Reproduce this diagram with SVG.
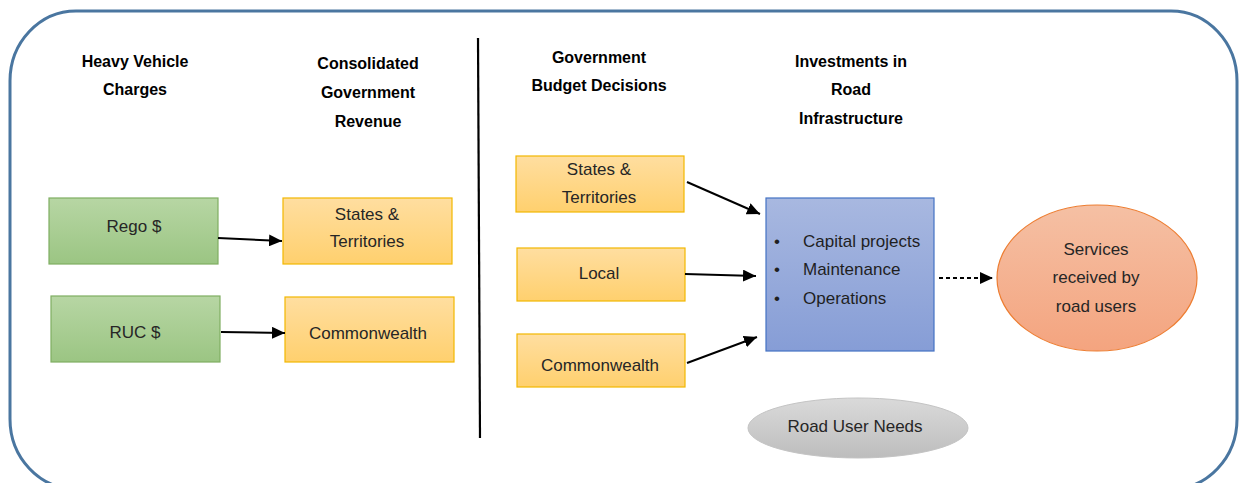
<svg xmlns="http://www.w3.org/2000/svg" width="1239" height="483" viewBox="0 0 1239 483">
<defs>
<linearGradient id="gGreen" x1="0" y1="0" x2="0" y2="1"><stop offset="0" stop-color="#B7D6A4"/><stop offset="1" stop-color="#9BC583"/></linearGradient>
<linearGradient id="gOrange" x1="0" y1="0" x2="0" y2="1"><stop offset="0" stop-color="#FFDEA0"/><stop offset="1" stop-color="#FFD06E"/></linearGradient>
<linearGradient id="gBlue" x1="0" y1="0" x2="0" y2="1"><stop offset="0" stop-color="#A8B8E0"/><stop offset="1" stop-color="#869DD6"/></linearGradient>
<linearGradient id="gSalmon" x1="0" y1="0" x2="0" y2="1"><stop offset="0" stop-color="#F5C0A4"/><stop offset="1" stop-color="#F4A47F"/></linearGradient>
<linearGradient id="gGray" x1="0" y1="0" x2="0" y2="1"><stop offset="0" stop-color="#DADADA"/><stop offset="1" stop-color="#BDBDBD"/></linearGradient>
<marker id="arrow" markerUnits="userSpaceOnUse" markerWidth="14" markerHeight="12" refX="13" refY="6" orient="auto">
<path d="M0,0 L13,6 L0,12 Z" fill="#000"/>
</marker>
</defs>
<style>
.head{font-family:"Liberation Sans",Arial,sans-serif;font-weight:bold;font-size:16px;fill:#000;text-anchor:middle}
.lbl{font-family:"Liberation Sans",Arial,sans-serif;font-size:17px;fill:#262626;text-anchor:middle}
.blt{font-family:"Liberation Sans",Arial,sans-serif;font-size:17px;fill:#1F1F1F}
.green{fill:url(#gGreen);stroke:#7FAE62;stroke-width:1.2}
.orange{fill:url(#gOrange);stroke:#F2B700;stroke-width:1.2}
.conn{stroke:#000;stroke-width:2;fill:none;marker-end:url(#arrow)}
</style>
<rect x="10" y="11" width="1227" height="478" rx="66" ry="70" fill="#fff" stroke="#4A76A0" stroke-width="3"/>
<line x1="478" y1="38" x2="480" y2="438" stroke="#000" stroke-width="2.2"/>
<g id="headings">
<text class="head" x="135" y="67">Heavy Vehicle</text>
<text class="head" x="135" y="95">Charges</text>
<text class="head" x="368" y="69">Consolidated</text>
<text class="head" x="368" y="98">Government</text>
<text class="head" x="368" y="127">Revenue</text>
<text class="head" x="599" y="63">Government</text>
<text class="head" x="599" y="91">Budget Decisions</text>
<text class="head" x="851" y="67">Investments in</text>
<text class="head" x="851" y="95">Road</text>
<text class="head" x="851" y="124">Infrastructure</text>
</g>
<g id="rego"><rect class="green" x="49" y="198" width="169" height="66"/><text class="lbl" x="134" y="232">Rego $</text></g>
<g id="ruc"><rect class="green" x="51" y="296" width="169" height="66"/><text class="lbl" x="135" y="338">RUC $</text></g>
<g id="rev-states"><rect class="orange" x="283" y="198" width="169" height="66"/><text class="lbl" x="367" y="220">States &amp;</text><text class="lbl" x="367" y="247">Territories</text></g>
<g id="rev-cw"><rect class="orange" x="285" y="297" width="169" height="65"/><text class="lbl" x="368" y="339">Commonwealth</text></g>
<g id="bud-states"><rect class="orange" x="516" y="156" width="168" height="56"/><text class="lbl" x="599" y="175">States &amp;</text><text class="lbl" x="599" y="203">Territories</text></g>
<g id="bud-local"><rect class="orange" x="517" y="248" width="168" height="53"/><text class="lbl" x="599" y="279">Local</text></g>
<g id="bud-cw"><rect class="orange" x="517" y="334" width="168" height="53"/><text class="lbl" x="600" y="371">Commonwealth</text></g>
<g id="invest">
<rect x="766" y="198" width="168" height="153" fill="url(#gBlue)" stroke="#4472C4" stroke-width="1.2"/>
<text class="blt" x="774" y="247">•</text><text class="blt" x="803" y="247">Capital projects</text>
<text class="blt" x="774" y="275">•</text><text class="blt" x="803" y="275">Maintenance</text>
<text class="blt" x="774" y="304">•</text><text class="blt" x="803" y="304">Operations</text>
</g>
<g id="services">
<ellipse cx="1097" cy="278" rx="100" ry="73" fill="url(#gSalmon)" stroke="#ED7D31" stroke-width="1.2"/>
<text class="lbl" x="1096" y="255">Services</text>
<text class="lbl" x="1096" y="283">received by</text>
<text class="lbl" x="1096" y="312">road users</text>
</g>
<g id="needs">
<ellipse cx="858" cy="428" rx="110" ry="30" fill="url(#gGray)" stroke="#C4C4C4" stroke-width="1"/>
<text class="lbl" x="855" y="432">Road User Needs</text>
</g>
<g id="connectors">
<line class="conn" x1="218" y1="238" x2="282" y2="241"/>
<line class="conn" x1="221" y1="332" x2="285" y2="333"/>
<line class="conn" x1="687" y1="182" x2="760" y2="214"/>
<line class="conn" x1="685" y1="274" x2="756" y2="276"/>
<line class="conn" x1="687" y1="363" x2="757" y2="337"/>
<line class="conn" x1="939" y1="278" x2="993" y2="278" stroke-dasharray="4,3"/>
</g>
</svg>
